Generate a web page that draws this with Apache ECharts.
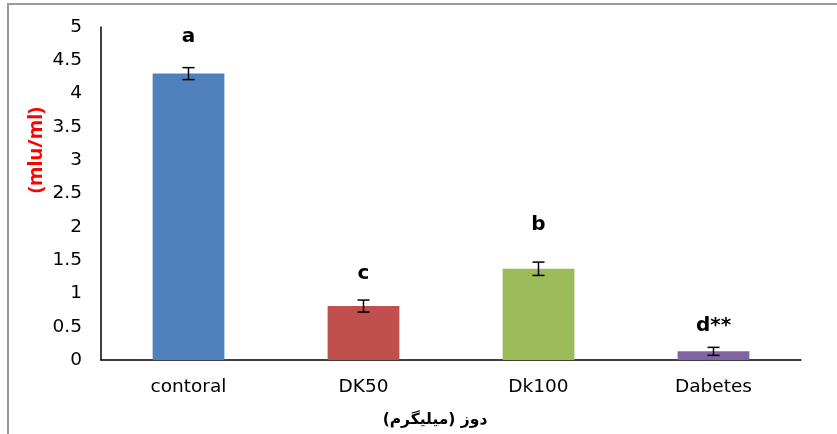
<!DOCTYPE html>
<html>
<head>
<meta charset="utf-8">
<script src="https://cdn.jsdelivr.net/npm/echarts@6/dist/echarts.min.js"></script>
<style>html,body{margin:0;padding:0;background:#fff;}#c{width:837px;height:434px;}</style>
</head>
<body>
<div id="c"></div>
<script>
const categories = ['contoral', 'DK50', 'Dk100', 'Dabetes'];
const values = [4.3, 0.81, 1.37, 0.13];
const errors = [0.09, 0.09, 0.1, 0.06];
const colors = ['#4F81BD', '#C0504D', '#9BBB59', '#8064A2'];
const letters = ['a', 'c', 'b', 'd**'];
const letterY = [4.86, 1.29, 2.03, 0.51];
const yTicks = [0, 0.5, 1, 1.5, 2, 2.5, 3, 3.5, 4, 4.5, 5];
const yTitle = '(mlu/ml)';
const xTitle = 'دوز (میلیگرم)';

const chart = echarts.init(document.getElementById('c'), null, {renderer: 'canvas'});
chart.setOption({
  animation: false,
  backgroundColor: '#fff',
  grid: {left: 101, right: 36, top: 27, bottom: 74, containLabel: false},
  xAxis: {
    type: 'category',
    data: categories,
    axisLine: {lineStyle: {color: '#000', width: 1.5}},
    axisTick: {show: false},
    axisLabel: {color: '#000', fontFamily: 'DejaVu Sans', fontSize: 18.5, margin: 18}
  },
  yAxis: {
    type: 'value',
    min: yTicks[0],
    max: yTicks[yTicks.length - 1],
    interval: 0.5,
    axisLine: {show: true, lineStyle: {color: '#000', width: 1.5}},
    axisTick: {show: false},
    splitLine: {show: false},
    axisLabel: {color: '#000', fontFamily: 'DejaVu Sans', fontSize: 18.5, margin: 19,
      formatter: v => String(v)}
  },
  series: [
    {
      type: 'bar',
      barWidth: '41%',
      data: values.map((v, i) => ({value: v, itemStyle: {color: colors[i]}}))
    },
    {
      type: 'custom',
      z: 5,
      data: values.map((v, i) => [i, v - errors[i], v + errors[i]]),
      renderItem: function (params, api) {
        const lo = api.coord([api.value(0), api.value(1)]);
        const hi = api.coord([api.value(0), api.value(2)]);
        const hw = 6;
        const st = {stroke: '#000', lineWidth: 1.5};
        return {type: 'group', children: [
          {type: 'line', shape: {x1: lo[0], y1: lo[1], x2: hi[0], y2: hi[1]}, style: st},
          {type: 'line', shape: {x1: lo[0] - hw, y1: lo[1], x2: lo[0] + hw, y2: lo[1]}, style: st},
          {type: 'line', shape: {x1: hi[0] - hw, y1: hi[1], x2: hi[0] + hw, y2: hi[1]}, style: st}
        ]};
      }
    },
    {
      type: 'scatter',
      symbolSize: 0,
      itemStyle: {opacity: 1},
      data: letterY.map((v, i) => [i, v]),
      label: {
        show: true, position: 'inside',
        formatter: p => letters[p.dataIndex],
        color: '#000', opacity: 1, textBorderWidth: 0,
        fontFamily: 'DejaVu Sans', fontWeight: 'bold', fontSize: 20
      }
    }
  ],
  graphic: [
    {type: 'rect', shape: {x: 8, y: 4, width: 900, height: 500},
      style: {fill: 'none', stroke: '#999', lineWidth: 2}, z: 100, silent: true},
    {type: 'text', x: 36, y: 150, rotation: Math.PI / 2,
      style: {text: yTitle, fill: '#FF0000', font: 'bold 20px "Noto Sans"', align: 'center', verticalAlign: 'middle'}},
    {type: 'text', x: 435, y: 420,
      style: {text: xTitle, fill: '#000', font: 'bold 15.5px "DejaVu Sans"', align: 'center', verticalAlign: 'middle'}}
  ]
});
</script>
</body>
</html>
